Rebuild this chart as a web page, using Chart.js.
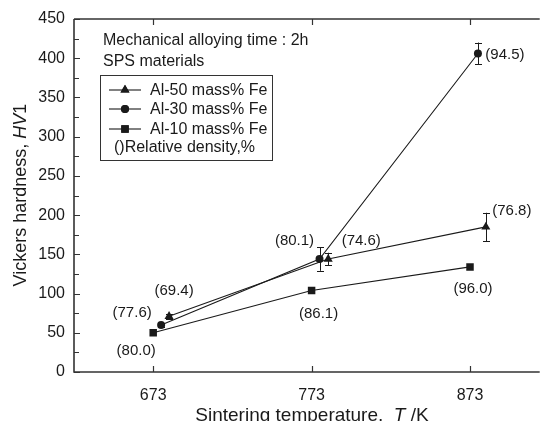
<!DOCTYPE html>
<html>
<head>
<meta charset="utf-8">
<script src="https://cdn.jsdelivr.net/npm/chart.js@4.4.1/dist/chart.umd.min.js"></script>
<style>
html,body{margin:0;padding:0;background:#fff;overflow:hidden;}
#wrap{width:545px;height:421px;}
</style>
</head>
<body>
<div id="wrap"><canvas id="c" width="545" height="421"></canvas></div>
<script>
// ---- data ----
const xTickValues = [673, 773, 873];
const xTickLabels = ['673', '773', '873'];
const seriesNames = ['Al-50 mass% Fe', 'Al-30 mass% Fe', 'Al-10 mass% Fe'];
const al50X = [683, 783.5, 883];
const al50Y = [71, 144, 185];
const al50Err = [3, 8, 18];
const al50Density = ['(69.4)', '(74.6)', '(76.8)'];
const al30X = [678, 778, 878];
const al30Y = [60, 144, 406];
const al30Err = [3, 15, 14];
const al30Density = ['(77.6)', '(80.1)', '(94.5)'];
const al10X = [673, 773, 873];
const al10Y = [50, 104, 134];
const al10Err = [0, 0, 0];
const al10Density = ['(80.0)', '(86.1)', '(96.0)'];
const noteLines = ['Mechanical alloying time : 2h', 'SPS materials'];
const densityNote = '()Relative density,%';

const FONT = '"Liberation Sans", Arial, sans-serif';
const INK = '#1a1a1a';

function pts(xs, ys) { return xs.map((x, i) => ({x: x, y: ys[i]})); }

const datasets = [
  {label: seriesNames[0], data: pts(al50X, al50Y), pointStyle: 'triangle', pointRadius: 5.2, err: al50Err,
   dens: al50Density, offs: [[5, -25], [33, -18], [26, -16]]},
  {label: seriesNames[1], data: pts(al30X, al30Y), pointStyle: 'circle', pointRadius: 4, err: al30Err,
   dens: al30Density, offs: [[-29, -12], [-25, -18], [27, 1]]},
  {label: seriesNames[2], data: pts(al10X, al10Y), pointStyle: 'rect', pointRadius: 5.3, err: al10Err,
   dens: al10Density, offs: [[-17, 18], [7, 23], [3, 22]]}
].map(d => Object.assign({
  showLine: true, borderColor: INK, backgroundColor: INK, borderWidth: 1.1,
  pointBorderWidth: 0, pointBackgroundColor: INK, tension: 0
}, d));

const deco = {
  id: 'deco',
  beforeDatasetsDraw(chart) {
    const ctx = chart.ctx, xs = chart.scales.x, ys = chart.scales.y;
    ctx.save();
    ctx.strokeStyle = INK; ctx.lineWidth = 1;
    chart.data.datasets.forEach(ds => {
      ds.data.forEach((p, i) => {
        const e = ds.err[i];
        if (!e) return;
        const px = Math.round(xs.getPixelForValue(p.x)) + 0.5;
        const y1 = ys.getPixelForValue(p.y + e), y2 = ys.getPixelForValue(p.y - e);
        ctx.beginPath();
        ctx.moveTo(px, y1); ctx.lineTo(px, y2);
        ctx.moveTo(px - 3.5, Math.round(y1) + 0.5); ctx.lineTo(px + 3.5, Math.round(y1) + 0.5);
        ctx.moveTo(px - 3.5, Math.round(y2) + 0.5); ctx.lineTo(px + 3.5, Math.round(y2) + 0.5);
        ctx.stroke();
      });
    });
    ctx.restore();
  },
  afterDraw(chart) {
    const ctx = chart.ctx, a = chart.chartArea, xs = chart.scales.x, ys = chart.scales.y;
    ctx.save();
    // axes frame
    ctx.strokeStyle = '#333';
    ctx.lineWidth = 1.6;
    ctx.beginPath();
    ctx.moveTo(a.left, a.top); ctx.lineTo(a.left, a.bottom); ctx.lineTo(a.right, a.bottom);
    ctx.stroke();
    ctx.lineWidth = 1.3;
    ctx.beginPath();
    ctx.moveTo(a.left, a.top); ctx.lineTo(a.right, a.top);
    ctx.stroke();
    // ticks (inward)
    ctx.lineWidth = 1.2;
    ctx.beginPath();
    for (let v = 0; v <= 450; v += 25) {
      const py = Math.round(ys.getPixelForValue(v)) + 0.5;
      const len = v % 50 === 0 ? 6 : 5;
      ctx.moveTo(a.left, py); ctx.lineTo(a.left + len, py);
    }
    xTickValues.forEach(v => {
      const px = Math.round(xs.getPixelForValue(v)) + 0.5;
      ctx.moveTo(px, a.bottom); ctx.lineTo(px, a.bottom - 6);
      ctx.moveTo(px, a.top); ctx.lineTo(px, a.top + 6);
    });
    ctx.stroke();

    // density labels
    ctx.fillStyle = INK;
    ctx.font = '15px ' + FONT;
    ctx.textAlign = 'center'; ctx.textBaseline = 'middle';
    chart.data.datasets.forEach(ds => {
      ds.data.forEach((p, i) => {
        const px = xs.getPixelForValue(p.x), py = ys.getPixelForValue(p.y);
        ctx.fillText(ds.dens[i], px + ds.offs[i][0], py + ds.offs[i][1]);
      });
    });

    // note text
    ctx.font = '16px ' + FONT;
    ctx.textAlign = 'left';
    ctx.fillText(noteLines[0], 103, 41);
    ctx.fillText(noteLines[1], 103, 62);

    // legend box
    ctx.strokeStyle = '#333'; ctx.lineWidth = 1;
    ctx.strokeRect(100.5, 75.5, 172, 85);
    const rowY = [90, 109, 129];
    chart.data.datasets.forEach((ds, i) => {
      const y = rowY[i];
      ctx.strokeStyle = INK; ctx.lineWidth = 1.1;
      ctx.beginPath(); ctx.moveTo(109, y); ctx.lineTo(141, y); ctx.stroke();
      Chart.helpers.drawPoint(ctx, {pointStyle: ds.pointStyle, radius: ds.pointRadius, borderWidth: 0}, 125, y);
      ctx.fillStyle = INK; ctx.fill();
      ctx.font = '16px ' + FONT;
      ctx.fillText(ds.label, 150, y + 1);
    });
    ctx.fillText(densityNote, 114, 148);

    // axis titles with italic symbols
    function mixed(parts, cx, cy, rot, size, base) {
      ctx.save();
      ctx.translate(cx, cy);
      if (rot) ctx.rotate(-Math.PI / 2);
      let w = 0;
      parts.forEach(p => { ctx.font = (p[1] ? 'italic ' : '') + size + 'px ' + FONT; w += ctx.measureText(p[0]).width; });
      let x = -w / 2;
      ctx.textAlign = 'left'; ctx.textBaseline = base;
      parts.forEach(p => {
        ctx.font = (p[1] ? 'italic ' : '') + size + 'px ' + FONT;
        ctx.fillText(p[0], x, 0);
        x += ctx.measureText(p[0]).width;
      });
      ctx.restore();
    }
    ctx.fillStyle = INK;
    mixed([['Vickers hardness, ', false], ['HV', true], ['1', false]], 21, 195, true, 18, 'middle');
    mixed([['Sintering temperature,  ', false], ['T', true], [' /K', false]], 312, 421, false, 19, 'alphabetic');
    ctx.restore();
  }
};

new Chart(document.getElementById('c'), {
  type: 'scatter',
  data: {datasets: datasets},
  options: {
    responsive: false,
    animation: false,
    layout: {padding: {top: 19, right: 0, left: 0, bottom: 0}},
    plugins: {legend: {display: false}, tooltip: {enabled: false}},
    scales: {
      x: {
        type: 'linear', min: 623, max: 917,
        afterBuildTicks: s => { s.ticks = xTickValues.map(v => ({value: v})); },
        afterFit: s => { s.height = 49; },
        grid: {display: false, drawTicks: false},
        border: {display: false},
        ticks: {color: INK, font: {size: 16, family: FONT}, padding: 14,
                callback: (v) => xTickLabels[xTickValues.indexOf(v)]}
      },
      y: {
        min: 0, max: 450,
        afterFit: s => { s.width = 74; },
        grid: {display: false, drawTicks: false},
        border: {display: false},
        ticks: {stepSize: 50, color: INK, font: {size: 16, family: FONT}, padding: 9}
      }
    }
  },
  plugins: [deco]
});
</script>
</body>
</html>
